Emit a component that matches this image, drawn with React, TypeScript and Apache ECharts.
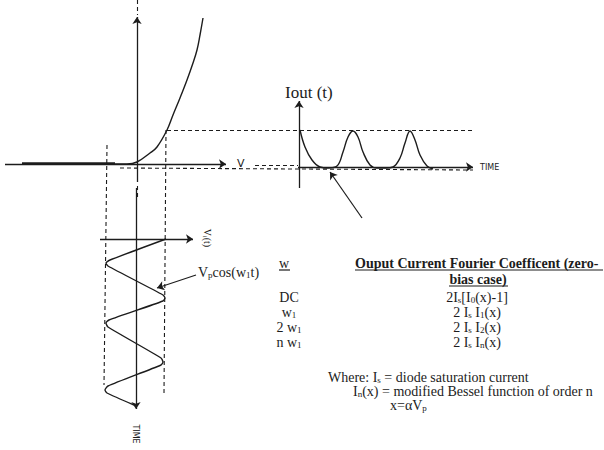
import React, { useEffect, useRef } from "react";
import * as echarts from "echarts";

const W = 604;
const H = 450;
const INK = "#1c1c1c";
const SERIF = "'Liberation Serif', 'Times New Roman', serif";
const SANS = "'DejaVu Sans', 'Liberation Sans', sans-serif";

// ---- curves (pixel-space coordinates of the diagram) ----
const diodeCurve: number[][] = [
  [115, 164], [127, 164], [137, 162], [150, 153], [157, 147], [167, 130],
  [173, 115], [180, 98], [187, 80], [193, 63], [197, 50], [200, 35], [203, 18],
];
const ioutWave: number[][] = [
  [300, 130], [305, 147], [312, 160], [320, 167], [328, 168], [337, 166],
  [343, 152], [348, 137], [353, 131], [358, 137], [363, 152], [370, 165],
  [377, 168], [386, 168], [393, 167], [400, 158], [405, 143], [410, 131],
  [415, 140], [420, 155], [427, 166], [433, 169],
];
const vinWave: number[][] = [
  [166, 239], [110, 260], [106, 263], [108, 266], [163, 295], [165, 298],
  [163, 301], [109, 320], [106, 323], [108, 327], [161, 358], [163, 362],
  [161, 365], [108, 386], [105, 390], [107, 393], [134, 405],
];

// ---- straight strokes ----
const axisArrows: number[][][] = [
  [[5, 164], [226, 164]],
  [[137, 182], [137, 17]],
  [[299, 188], [299, 101]],
  [[298, 167], [473, 167]],
  [[100, 239], [193, 239]],
  [[136, 188], [136, 409]],
];
const pointerArrows: number[][][] = [
  [[362, 218], [330, 172]],
  [[196, 275], [157, 288]],
];
const thickSegments: number[][][] = [[[22, 163], [115, 163]]];
const dashedSegments: number[][][] = [
  [[137, 0], [137, 15]],
  [[107, 145], [104, 385]],
  [[166, 130], [164, 393]],
  [[167, 130], [473, 130]],
  [[120, 168], [473, 170]],
  [[255, 165], [298, 165]],
  [[137, 186], [137, 200]],
];

// ---- table texts ----
const freqLabels = ["DC", "w{s|1}", "2 w{s|1}", "n w{s|1}"];
const coeffLabels = [
  "2I{s|s}[I{s|0}(x)-1]",
  "2 I{s|s} I{s|1}(x)",
  "2 I{s|s} I{s|2}(x)",
  "2 I{s|s} I{s|n}(x)",
];
const rowY = [297, 312, 327, 342];
const notes = [
  { text: "Where: I{s|s} = diode saturation current", x: 328, y: 377 },
  { text: "I{s|n}(x) = modified Bessel function of order n", x: 353, y: 391 },
  { text: "x=αV{s|p}", x: 390, y: 405 },
];

const sub = (size: number, lh: number) => ({
  fontSize: size,
  fontFamily: SERIF,
  fill: INK,
  verticalAlign: "bottom",
  lineHeight: lh,
});

function serifText(text: string, x: number, y: number, opts: any = {}) {
  const fontSize = opts.fontSize ?? 14;
  const subSize = Math.round(fontSize * 0.62);
  return {
    type: "text",
    x,
    y,
    rotation: opts.rotation ?? 0,
    style: {
      text,
      fontSize,
      fontFamily: opts.fontFamily ?? SERIF,
      fontWeight: opts.fontWeight ?? "normal",
      fill: INK,
      align: opts.align ?? "left",
      verticalAlign: "middle",
      lineHeight: fontSize,
      rich: {
        s: sub(subSize, Math.round(subSize * 1.05)),
      },
    },
  };
}

function underline(x1: number, x2: number, y: number) {
  return {
    type: "line",
    shape: { x1, y1: y, x2, y2: y },
    style: { stroke: INK, lineWidth: 1.2 },
  };
}

export default function App() {
  const ref = useRef<HTMLDivElement>(null);
  useEffect(() => {
    if (!ref.current) return;
    const chart = echarts.init(ref.current, null, { renderer: "svg" });
    const toLines = (segs: number[][][]) => segs.map((c) => ({ coords: c }));
    const graphic: any[] = [
      serifText("Iout (t)", 285, 92, { fontSize: 17 }),
      serifText("V", 237, 163, { fontSize: 11, fontFamily: SANS }),
      serifText("TIME", 480, 167, { fontSize: 8, fontFamily: SANS }),
      serifText("V{s|i}(t)", 207, 238, { fontSize: 10, rotation: -Math.PI / 2, align: "center" }),
      serifText("TIME", 135, 434, { fontSize: 8, fontFamily: SANS, rotation: -Math.PI / 2, align: "center" }),
      serifText("V{s|p}cos(w{s|1}t)", 198, 272, { fontSize: 14 }),
      serifText("w", 284, 263, { align: "center" }),
      underline(279, 290, 270),
      serifText("Ouput Current Fourier Coefficent (zero-", 355, 263, { fontWeight: "bold" }),
      underline(355, 603, 270),
      serifText("bias case)", 478, 279, { fontWeight: "bold", align: "center" }),
      underline(449, 508, 286),
      ...freqLabels.map((t, i) => serifText(t, 289, rowY[i], { align: "center" })),
      ...coeffLabels.map((t, i) => serifText(t, 477, rowY[i], { align: "center" })),
      ...notes.map((n) => serifText(n.text, n.x, n.y)),
    ];
    chart.setOption({
      animation: false,
      backgroundColor: "#ffffff",
      grid: { left: 0, right: 0, top: 0, bottom: 0 },
      xAxis: { type: "value", min: 0, max: W, show: false },
      yAxis: { type: "value", min: 0, max: H, inverse: true, show: false },
      series: [
        {
          type: "lines",
          coordinateSystem: "cartesian2d",
          symbol: ["none", "arrow"],
          symbolSize: 7,
          lineStyle: { color: INK, width: 1.3, opacity: 1 },
          data: toLines(axisArrows),
        },
        {
          type: "lines",
          coordinateSystem: "cartesian2d",
          symbol: ["none", "arrow"],
          symbolSize: 7,
          lineStyle: { color: INK, width: 1.2, opacity: 1 },
          data: toLines(pointerArrows),
        },
        {
          type: "lines",
          coordinateSystem: "cartesian2d",
          symbol: "none",
          lineStyle: { color: INK, width: 2.6, opacity: 1 },
          data: toLines(thickSegments),
        },
        {
          type: "lines",
          coordinateSystem: "cartesian2d",
          symbol: "none",
          lineStyle: { color: INK, width: 1.1, opacity: 1, type: [4, 3] },
          data: toLines(dashedSegments),
        },
        {
          type: "line",
          data: diodeCurve,
          smooth: 0.4,
          showSymbol: false,
          lineStyle: { color: INK, width: 1.4 },
        },
        {
          type: "line",
          data: ioutWave,
          smooth: 0.4,
          showSymbol: false,
          lineStyle: { color: INK, width: 1.4 },
        },
        {
          type: "line",
          data: vinWave,
          smooth: 0.2,
          showSymbol: false,
          lineStyle: { color: INK, width: 1.4 },
        },
      ],
      graphic,
    });
    return () => chart.dispose();
  }, []);
  return (
    <div
      ref={ref}
      style={{ position: "fixed", left: 0, top: 0, width: W, height: H, background: "#fff" }}
    />
  );
}
